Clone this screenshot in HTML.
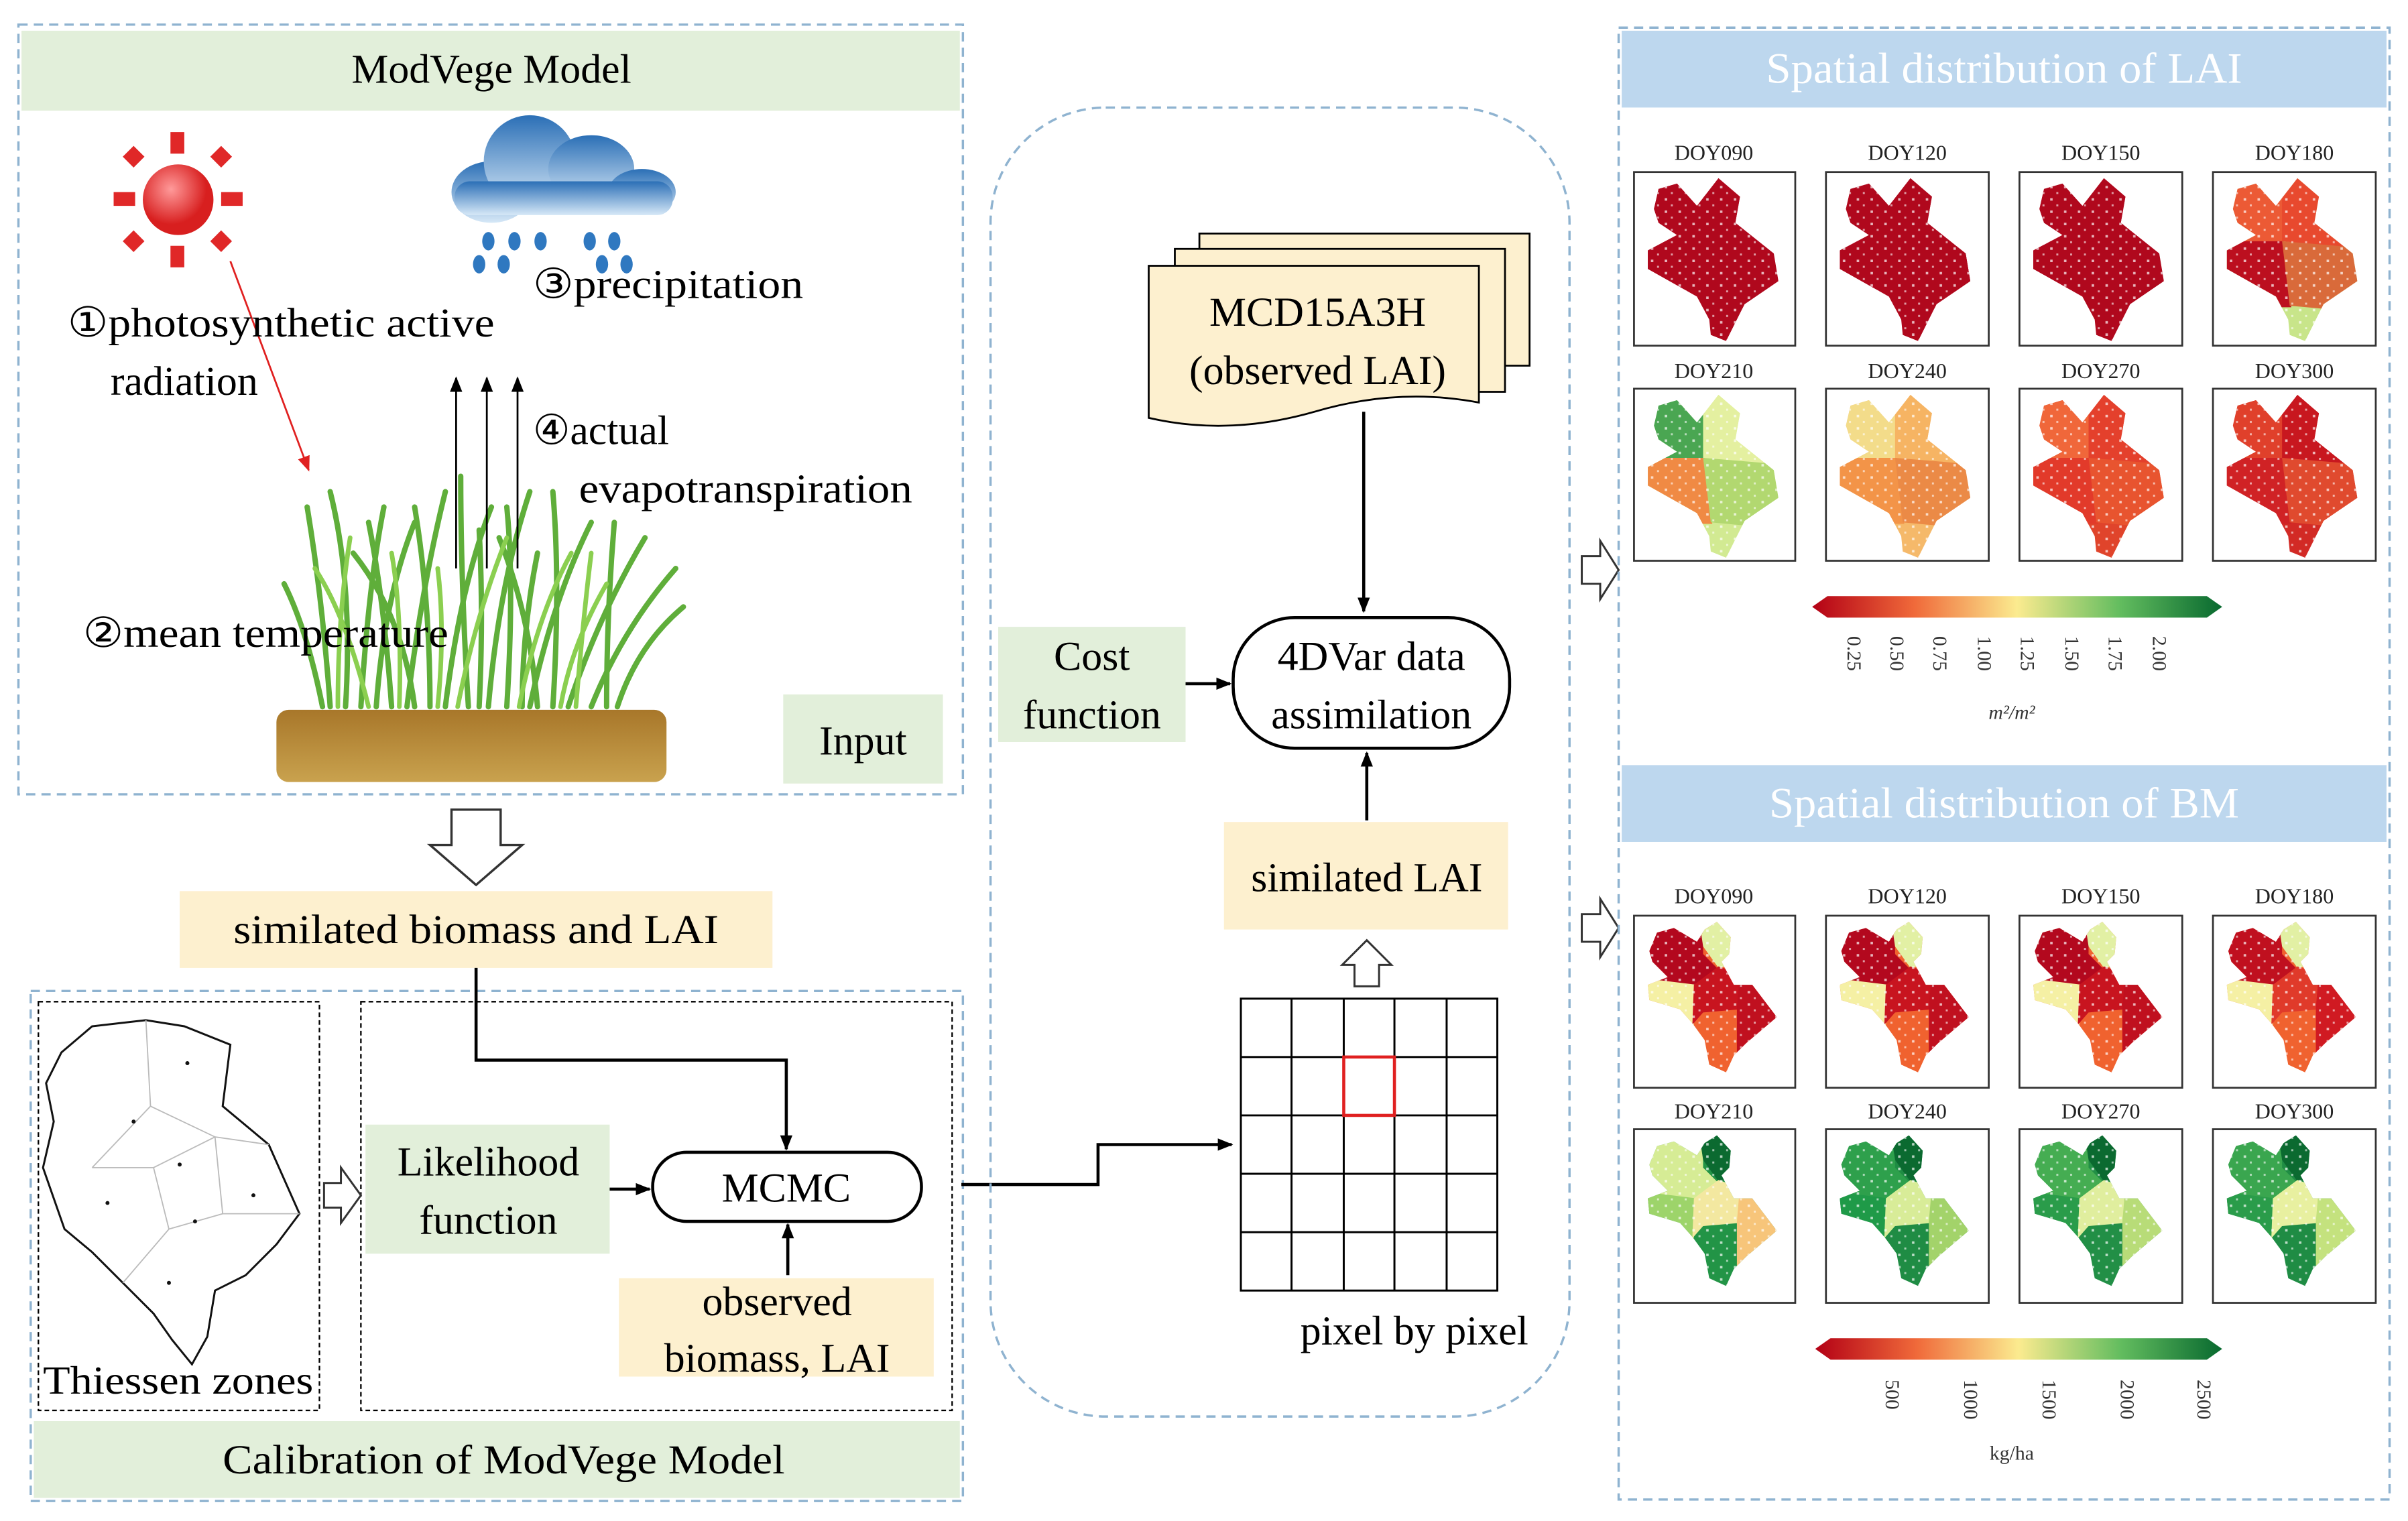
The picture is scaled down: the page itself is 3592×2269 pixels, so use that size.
<!DOCTYPE html>
<html><head><meta charset="utf-8"><style>
html,body{margin:0;padding:0;background:#fff;}
svg{display:block;}
text{font-family:"Liberation Serif",serif;}
</style></head><body>
<svg width="3592" height="2269" viewBox="0 0 1568 990" preserveAspectRatio="none" xmlns="http://www.w3.org/2000/svg">
<defs>
<marker id="ah" markerWidth="10" markerHeight="10" refX="9" refY="5" orient="auto" markerUnits="userSpaceOnUse"><path d="M0,1 L10,5 L0,9 z" fill="#000"/></marker>
<marker id="ahr" markerWidth="10" markerHeight="10" refX="9" refY="5" orient="auto" markerUnits="userSpaceOnUse"><path d="M0,1 L10,5 L0,9 z" fill="#e02020"/></marker>
<radialGradient id="sun" cx="0.4" cy="0.35"><stop offset="0" stop-color="#ff9a9a"/><stop offset="1" stop-color="#d81f1f"/></radialGradient>
<linearGradient id="cloud" x1="0" y1="0" x2="0" y2="1"><stop offset="0" stop-color="#2b6fb6"/><stop offset="1" stop-color="#d6e8f7"/></linearGradient>
<linearGradient id="soil" x1="0" y1="0" x2="0" y2="1"><stop offset="0" stop-color="#a8772a"/><stop offset="1" stop-color="#c9a24e"/></linearGradient>
<linearGradient id="cb" x1="0" y1="0" x2="1" y2="0"><stop offset="0" stop-color="#b30015"/><stop offset="0.25" stop-color="#f06a3a"/><stop offset="0.5" stop-color="#fbeb8f"/><stop offset="0.75" stop-color="#63bd5f"/><stop offset="1" stop-color="#08692f"/></linearGradient>
<clipPath id="cl"><path d="M16,11 L28,7.5 L41,22 L55,4 L69,16 L66,33 L91,53 L94,71 L72,86 L60,110 L50,106 L49,96 L41,81 L9,63 L9,51 L28,41 L16,33 L13,24 Z"/></clipPath>
<clipPath id="cb2"><path d="M10,23 L15,11 L26,8 L41,17 L46,9 L54,4 L63,14 L62,25 L57,30 L65,45 L77,45 L93,66 L73,83 L65,91 L60,102 L49,97 L46,81 L38,70 L30,61 L10,55 L9,45 L22,40 L12,30 Z"/></clipPath>
<pattern id="dots" width="9" height="8" patternUnits="userSpaceOnUse"><rect x="2" y="1" width="1.6" height="1.6" fill="#fff" opacity="0.7"/><rect x="6" y="5" width="1.3" height="1.3" fill="#fff" opacity="0.6"/></pattern>
<symbol id="lm" viewBox="0 0 105 113" width="105" height="113" overflow="visible">
<g clip-path="url(#cl)">
<rect width="105" height="113" style="fill:var(--e)"/>
<polygon points="0,0 46,0 46,46 0,46" style="fill:var(--a)"/>
<polygon points="45,0 105,0 105,51 45,45" style="fill:var(--b)"/>
<polygon points="0,45 46,45 51,88 0,88" style="fill:var(--c)"/>
<polygon points="45,45 105,50 105,92 50,87" style="fill:var(--d)"/>
<rect width="105" height="113" fill="url(#dots)"/>
</g></symbol>
<symbol id="bm" viewBox="0 0 105 113" width="105" height="113" overflow="visible">
<g clip-path="url(#cb2)">
<rect width="105" height="113" style="fill:var(--e)"/>
<polygon points="0,0 45,0 45,25 55,35 40,46 0,41" style="fill:var(--a)"/>
<polygon points="42,0 80,0 75,30 55,34 45,20" style="fill:var(--b)"/>
<polygon points="0,40 41,45 39,71 0,66" style="fill:var(--c)"/>
<polygon points="39,45 55,33 72,39 69,61 45,63 38,71" style="fill:var(--d)"/>
<polygon points="69,37 105,60 105,105 67,100 67,60" style="fill:var(--f)"/>
<rect width="105" height="113" fill="url(#dots)"/>
</g></symbol>
</defs>

<!-- LEFT TOP BOX -->
<rect x="12" y="16" width="615" height="501" fill="none" stroke="#8fb3d0" stroke-width="1.5" stroke-dasharray="6,4"/>
<rect x="14" y="20" width="611" height="52" fill="#e2efda"/>
<text x="320" y="54" font-size="27" text-anchor="middle">ModVege Model</text>
<g fill="#e02828">
<rect x="111" y="86" width="9" height="14"/><rect x="111" y="160" width="9" height="14"/>
<rect x="74" y="125" width="14" height="9"/><rect x="144" y="125" width="14" height="9"/>
<rect x="82" y="97" width="10" height="10" transform="rotate(45 87 102)"/><rect x="139" y="97" width="10" height="10" transform="rotate(45 144 102)"/>
<rect x="82" y="152" width="10" height="10" transform="rotate(45 87 157)"/><rect x="139" y="152" width="10" height="10" transform="rotate(45 144 157)"/>
</g>
<circle cx="116" cy="130" r="23" fill="url(#sun)"/>
<g fill="url(#cloud)">
<ellipse cx="320" cy="125" rx="26" ry="20"/><ellipse cx="345" cy="105" rx="30" ry="30"/><ellipse cx="385" cy="110" rx="28" ry="22"/><ellipse cx="418" cy="125" rx="22" ry="15"/><rect x="296" y="118" width="142" height="22" rx="10"/>
</g>
<g fill="#2f78c0">
<ellipse cx="318" cy="157" rx="4" ry="6"/><ellipse cx="335" cy="157" rx="4" ry="6"/><ellipse cx="352" cy="157" rx="4" ry="6"/><ellipse cx="384" cy="157" rx="4" ry="6"/><ellipse cx="400" cy="157" rx="4" ry="6"/>
<ellipse cx="312" cy="172" rx="4" ry="6"/><ellipse cx="328" cy="172" rx="4" ry="6"/><ellipse cx="392" cy="172" rx="4" ry="6"/><ellipse cx="408" cy="172" rx="4" ry="6"/>
</g>
<g stroke="#5fae3a" stroke-width="3.5" fill="none" stroke-linecap="round">
<path d="M215,460 Q210,390 200,330"/><path d="M225,460 Q230,380 215,320"/><path d="M235,460 Q240,380 250,330"/><path d="M245,460 Q250,390 270,340"/><path d="M255,460 Q250,390 240,340"/>
<path d="M265,460 Q275,380 290,320"/><path d="M280,460 Q280,390 270,330"/><path d="M290,460 Q300,380 320,330"/><path d="M305,460 Q300,380 300,310"/><path d="M318,460 Q325,380 345,320"/>
<path d="M330,460 Q335,380 330,330"/><path d="M345,460 Q360,390 385,340"/><path d="M360,460 Q365,380 360,320"/><path d="M370,460 Q390,400 420,350"/><path d="M385,460 Q405,410 440,370"/><path d="M395,460 Q395,400 400,340"/><path d="M350,460 Q345,400 325,350"/>
<path d="M210,460 Q200,410 185,380"/><path d="M270,460 Q262,400 230,360"/><path d="M312,460 Q315,400 312,345"/><path d="M340,460 Q340,410 350,360"/><path d="M402,460 Q415,420 445,395"/>
</g>
<g stroke="#8bcf50" stroke-width="3" fill="none" stroke-linecap="round">
<path d="M220,460 Q220,400 228,350"/><path d="M260,460 Q262,400 255,360"/><path d="M298,460 Q310,400 330,350"/><path d="M338,460 Q350,400 372,360"/><path d="M375,460 Q380,400 385,360"/><path d="M240,460 Q225,400 205,370"/><path d="M285,460 Q290,410 285,370"/><path d="M365,460 Q372,420 395,380"/>
</g>
<rect x="180" y="462" width="254" height="47" rx="8" fill="url(#soil)"/>
<line x1="150" y1="170" x2="201" y2="306" stroke="#e02020" stroke-width="1.2" marker-end="url(#ahr)"/>
<g stroke="#000" stroke-width="1.2"><line x1="297" y1="370" x2="297" y2="246" marker-end="url(#ah)"/><line x1="317" y1="370" x2="317" y2="246" marker-end="url(#ah)"/><line x1="337" y1="370" x2="337" y2="246" marker-end="url(#ah)"/></g>
<g font-size="27">
<text x="44" y="219" textLength="278" lengthAdjust="spacingAndGlyphs">①photosynthetic active</text>
<text x="72" y="257">radiation</text>
<text x="347" y="194" textLength="176" lengthAdjust="spacingAndGlyphs">③precipitation</text>
<text x="347" y="289">④actual</text>
<text x="377" y="327" textLength="217" lengthAdjust="spacingAndGlyphs">evapotranspiration</text>
<text x="54" y="421" textLength="238" lengthAdjust="spacingAndGlyphs">②mean temperature</text>
</g>
<rect x="510" y="452" width="104" height="58" fill="#e2efda"/>
<text x="562" y="491" font-size="27" text-anchor="middle">Input</text>

<path d="M294,527 L326,527 L326,550 L340,550 L310,576 L280,550 L294,550 Z" fill="#fff" stroke="#333" stroke-width="1.5"/>
<rect x="117" y="580" width="386" height="50" fill="#fdf0cf"/>
<text x="310" y="614" font-size="27" text-anchor="middle" textLength="316" lengthAdjust="spacingAndGlyphs">similated biomass and LAI</text>

<!-- LEFT BOTTOM BOX -->
<rect x="20" y="645" width="607" height="332" fill="none" stroke="#8fb3d0" stroke-width="1.5" stroke-dasharray="6,4"/>
<rect x="22" y="925" width="603" height="50" fill="#e2efda"/>
<text x="328" y="959" font-size="27" text-anchor="middle" textLength="366" lengthAdjust="spacingAndGlyphs">Calibration of ModVege Model</text>
<rect x="25" y="652" width="183" height="266" fill="none" stroke="#000" stroke-width="1" stroke-dasharray="3,2"/>
<rect x="235" y="652" width="385" height="266" fill="none" stroke="#000" stroke-width="1" stroke-dasharray="3,2"/>
<path d="M40,685 L60,668 L95,664 L120,668 L150,680 L145,720 L175,745 L195,790 L180,810 L160,830 L140,840 L135,870 L125,888 L112,872 L100,855 L80,835 L60,815 L42,800 L28,760 L35,730 L30,705 Z" fill="#fff" stroke="#111" stroke-width="1.3"/>
<g stroke="#bbb" stroke-width="0.8" fill="none"><path d="M95,664 L98,720 L60,760 M98,720 L140,740 L175,745 M140,740 L145,790 L195,790 M145,790 L110,800 L80,835 M110,800 L100,760 L60,760 M100,760 L140,740"/></g>
<g fill="#111"><circle cx="122" cy="692" r="1.3"/><circle cx="87" cy="730" r="1.3"/><circle cx="117" cy="758" r="1.3"/><circle cx="70" cy="783" r="1.3"/><circle cx="127" cy="795" r="1.3"/><circle cx="165" cy="778" r="1.3"/><circle cx="110" cy="835" r="1.3"/></g>
<text x="116" y="907" font-size="26" text-anchor="middle" textLength="176" lengthAdjust="spacingAndGlyphs">Thiessen zones</text>
<path d="M211,770 L222,770 L222,760 L235,778 L222,796 L222,786 L211,786 Z" fill="#fff" stroke="#333" stroke-width="1.3"/>
<rect x="238" y="732" width="159" height="84" fill="#e2efda"/>
<text x="318" y="765" font-size="27" text-anchor="middle">Likelihood</text>
<text x="318" y="803" font-size="27" text-anchor="middle">function</text>
<rect x="425" y="750" width="175" height="45" rx="22" fill="#fff" stroke="#000" stroke-width="2"/>
<text x="512" y="782" font-size="27" text-anchor="middle">MCMC</text>
<rect x="403" y="832" width="205" height="64" fill="#fdf0cf"/>
<text x="506" y="856" font-size="27" text-anchor="middle">observed</text>
<text x="506" y="893" font-size="27" text-anchor="middle">biomass, LAI</text>
<g stroke="#000" stroke-width="2" fill="none">
<polyline points="310,630 310,690 512,690 512,748" marker-end="url(#ah)"/>
<line x1="397" y1="774" x2="423" y2="774" marker-end="url(#ah)"/>
<line x1="513" y1="830" x2="513" y2="797" marker-end="url(#ah)"/>
<polyline points="626,771 715,771 715,745 802,745" marker-end="url(#ah)"/>
</g>

<!-- MIDDLE BOX -->
<rect x="645" y="70" width="377" height="852" rx="75" fill="none" stroke="#8fb3d0" stroke-width="1.5" stroke-dasharray="6,4"/>
<g stroke="#000" stroke-width="1.2">
<path d="M781,152 L996,152 L996,238 L781,238 Z" fill="#fdf0cf"/>
<path d="M765,162 L980,162 L980,255 L765,255 Z" fill="#fdf0cf"/>
<path d="M748,173 L963,173 L963,262 Q910,252 856,268 Q800,284 748,272 Z" fill="#fdf0cf"/>
</g>
<text x="858" y="212" font-size="27" text-anchor="middle">MCD15A3H</text>
<text x="858" y="250" font-size="27" text-anchor="middle">(observed LAI)</text>
<g stroke="#000" stroke-width="2">
<line x1="888" y1="268" x2="888" y2="398" marker-end="url(#ah)"/>
<line x1="772" y1="445" x2="801" y2="445" marker-end="url(#ah)"/>
<line x1="890" y1="534" x2="890" y2="490" marker-end="url(#ah)"/>
</g>
<rect x="650" y="408" width="122" height="75" fill="#e2efda"/>
<text x="711" y="436" font-size="27" text-anchor="middle">Cost</text>
<text x="711" y="474" font-size="27" text-anchor="middle">function</text>
<rect x="803" y="402" width="180" height="85" rx="40" fill="#fff" stroke="#000" stroke-width="2"/>
<text x="893" y="436" font-size="27" text-anchor="middle">4DVar data</text>
<text x="893" y="474" font-size="27" text-anchor="middle">assimilation</text>
<rect x="797" y="535" width="185" height="70" fill="#fdf0cf"/>
<text x="890" y="580" font-size="27" text-anchor="middle">similated LAI</text>
<path d="M882,642 L882,628 L874,628 L890,612 L906,628 L898,628 L898,642 Z" fill="#fff" stroke="#333" stroke-width="1.3"/>
<g stroke="#000" stroke-width="1.3" fill="none">
<rect x="808" y="650" width="167" height="190"/>
<line x1="841" y1="650" x2="841" y2="840"/><line x1="875" y1="650" x2="875" y2="840"/><line x1="908" y1="650" x2="908" y2="840"/><line x1="942" y1="650" x2="942" y2="840"/>
<line x1="808" y1="688" x2="975" y2="688"/><line x1="808" y1="726" x2="975" y2="726"/><line x1="808" y1="764" x2="975" y2="764"/><line x1="808" y1="802" x2="975" y2="802"/>
</g>
<rect x="875" y="688" width="33" height="38" fill="none" stroke="#e02020" stroke-width="2"/>
<text x="921" y="875" font-size="27" text-anchor="middle">pixel by pixel</text>

<!-- RIGHT -->
<path d="M1030,362 L1042,362 L1042,352 L1054,371 L1042,390 L1042,380 L1030,380 Z" fill="#fff" stroke="#333" stroke-width="1.3"/>
<path d="M1030,595 L1042,595 L1042,585 L1054,604 L1042,623 L1042,613 L1030,613 Z" fill="#fff" stroke="#333" stroke-width="1.3"/>
<rect x="1054" y="18" width="502" height="958" fill="none" stroke="#8fb3d0" stroke-width="1.5" stroke-dasharray="6,4"/>
<rect x="1056" y="20" width="498" height="50" fill="#bdd7ee"/>
<text x="1305" y="54" font-size="28" text-anchor="middle" fill="#fff" textLength="310" lengthAdjust="spacingAndGlyphs">Spatial distribution of LAI</text>
<rect x="1056" y="498" width="498" height="50" fill="#bdd7ee"/>
<text x="1305" y="532" font-size="28" text-anchor="middle" fill="#fff" textLength="306" lengthAdjust="spacingAndGlyphs">Spatial distribution of BM</text>

<g font-size="14" text-anchor="middle" style="font-family:'Liberation Sans',sans-serif" fill="#222">
<text x="1116" y="104">DOY090</text><text x="1242" y="104">DOY120</text><text x="1368" y="104">DOY150</text><text x="1494" y="104">DOY180</text>
<text x="1116" y="246">DOY210</text><text x="1242" y="246">DOY240</text><text x="1368" y="246">DOY270</text><text x="1494" y="246">DOY300</text>
<text x="1116" y="588">DOY090</text><text x="1242" y="588">DOY120</text><text x="1368" y="588">DOY150</text><text x="1494" y="588">DOY180</text>
<text x="1116" y="728">DOY210</text><text x="1242" y="728">DOY240</text><text x="1368" y="728">DOY270</text><text x="1494" y="728">DOY300</text>
</g>
<g stroke="#333" stroke-width="1.2" fill="#fff">
<rect x="1064" y="112" width="105" height="113"/><rect x="1189" y="112" width="106" height="113"/><rect x="1315" y="112" width="106" height="113"/><rect x="1441" y="112" width="106" height="113"/>
<rect x="1064" y="253" width="105" height="112"/><rect x="1189" y="253" width="106" height="112"/><rect x="1315" y="253" width="106" height="112"/><rect x="1441" y="253" width="106" height="112"/>
<rect x="1064" y="596" width="105" height="112"/><rect x="1189" y="596" width="106" height="112"/><rect x="1315" y="596" width="106" height="112"/><rect x="1441" y="596" width="106" height="112"/>
<rect x="1064" y="735" width="105" height="113"/><rect x="1189" y="735" width="106" height="113"/><rect x="1315" y="735" width="106" height="113"/><rect x="1441" y="735" width="106" height="113"/>
</g>
<use href="#lm" x="1064" y="112" style="--a:#b0081d;--b:#b0081d;--c:#b0081d;--d:#b0081d;--e:#b0081d"/>
<use href="#lm" x="1189" y="112" style="--a:#b0081d;--b:#b0081d;--c:#b0081d;--d:#b0081d;--e:#b0081d"/>
<use href="#lm" x="1315" y="112" style="--a:#b0081d;--b:#b0081d;--c:#b0081d;--d:#b0081d;--e:#b0081d"/>
<use href="#lm" x="1441" y="112" style="--a:#ec5a35;--b:#e8492e;--c:#bc0f1f;--d:#d96a3a;--e:#c8e58a"/>
<use href="#lm" x="1064" y="253" style="--a:#4aa652;--b:#e4f0a0;--c:#f08a44;--d:#b2d870;--e:#d2ea92"/>
<use href="#lm" x="1189" y="253" style="--a:#f3dc8a;--b:#f6b463;--c:#f39448;--d:#eb8a46;--e:#f5b96a"/>
<use href="#lm" x="1315" y="253" style="--a:#f0673a;--b:#e4402c;--c:#e23a2a;--d:#e8542f;--e:#e0442b"/>
<use href="#lm" x="1441" y="253" style="--a:#e0402b;--b:#c8171f;--c:#d02225;--d:#e04a2e;--e:#d22a25"/>
<use href="#bm" x="1064" y="596" style="--a:#b3081e;--b:#e2f0a4;--c:#f5f0a4;--d:#c8141f;--e:#f0622f;--f:#c0101f"/>
<use href="#bm" x="1189" y="596" style="--a:#b3081e;--b:#e2f0a4;--c:#f5f0a4;--d:#c8141f;--e:#f0622f;--f:#c0101f"/>
<use href="#bm" x="1315" y="596" style="--a:#b3081e;--b:#e2f0a4;--c:#f5f0a4;--d:#c8141f;--e:#f0622f;--f:#c0101f"/>
<use href="#bm" x="1441" y="596" style="--a:#c0101f;--b:#e2f0a4;--c:#f5f0a4;--d:#e03a2a;--e:#f0622f;--f:#d01a22"/>
<use href="#bm" x="1064" y="735" style="--a:#d6ec95;--b:#0b6a30;--c:#9dd46a;--d:#f3e8a0;--e:#229446;--f:#f7c57a"/>
<use href="#bm" x="1189" y="735" style="--a:#2ea04c;--b:#0b6a30;--c:#1f9a48;--d:#d8ec98;--e:#1f8c44;--f:#a3d36a"/>
<use href="#bm" x="1315" y="735" style="--a:#45ad52;--b:#0b6a30;--c:#2a9c4a;--d:#e0ee9e;--e:#228f46;--f:#b8dc78"/>
<use href="#bm" x="1441" y="735" style="--a:#3aa64f;--b:#0b6a30;--c:#2a9c4a;--d:#e8f0a0;--e:#1f8c44;--f:#c4e27e"/>

<path d="M1180,395 L1190,388 L1437,388 L1447,395 L1437,402 L1190,402 Z" fill="url(#cb)"/>
<g style="font-family:'Liberation Sans',sans-serif" font-size="13" fill="#333">
<text transform="translate(1203,414) rotate(90)">0.25</text><text transform="translate(1231,414) rotate(90)">0.50</text><text transform="translate(1259,414) rotate(90)">0.75</text><text transform="translate(1288,414) rotate(90)">1.00</text><text transform="translate(1316,414) rotate(90)">1.25</text><text transform="translate(1345,414) rotate(90)">1.50</text><text transform="translate(1373,414) rotate(90)">1.75</text><text transform="translate(1402,414) rotate(90)">2.00</text>
<text x="1310" y="468" text-anchor="middle" font-style="italic">m²/m²</text>
</g>
<path d="M1182,878 L1192,871 L1437,871 L1447,878 L1437,885 L1192,885 Z" fill="url(#cb)"/>
<g style="font-family:'Liberation Sans',sans-serif" font-size="13" fill="#333">
<text transform="translate(1228,898) rotate(90)">500</text><text transform="translate(1279,898) rotate(90)">1000</text><text transform="translate(1330,898) rotate(90)">1500</text><text transform="translate(1381,898) rotate(90)">2000</text><text transform="translate(1431,898) rotate(90)">2500</text>
<text x="1310" y="950" text-anchor="middle">kg/ha</text>
</g>
</svg>
</body></html>
